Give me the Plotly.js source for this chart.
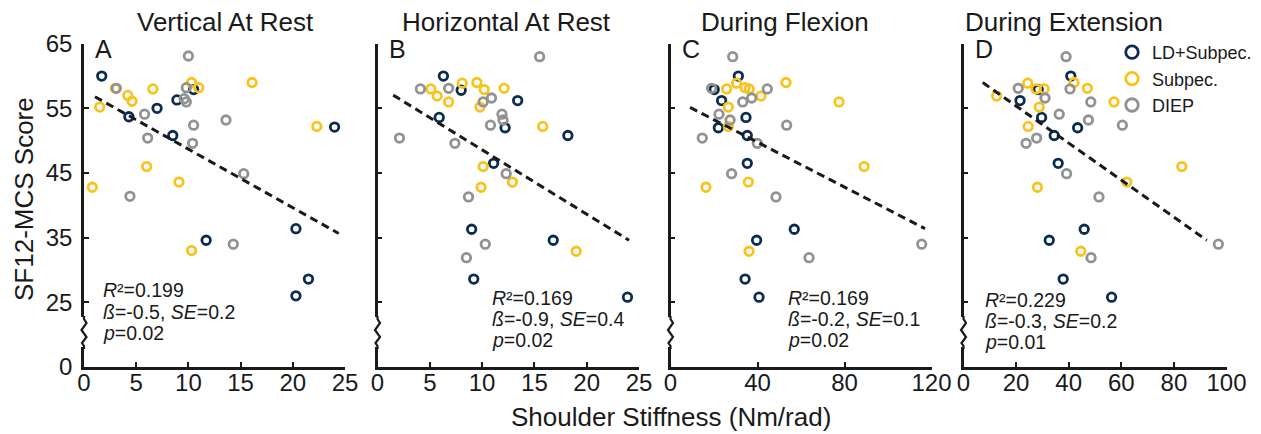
<!DOCTYPE html>
<html>
<head>
<meta charset="utf-8">
<script src="https://cdn.plot.ly/plotly-3.0.1.min.js"></script>
<style>
  html, body { margin: 0; padding: 0; background: #ffffff; }
  #chart { width: 1261px; height: 434px; }
</style>
</head>
<body>
<div id="chart"></div>
<script>
// ---------------- DATA ----------------
const groups = ['LD+Subpec.', 'Subpec.', 'DIEP'];
const panelTitles = ['Vertical At Rest', 'Horizontal At Rest', 'During Flexion', 'During Extension'];
const panelLetters = ['A', 'B', 'C', 'D'];
const xRanges = [[0, 25], [0, 25], [0, 120], [0, 100]];
const xTicks = [[0, 5, 10, 15, 20, 25], [0, 5, 10, 15, 20, 25], [0, 40, 80, 120], [0, 20, 40, 60, 80, 100]];
// y axis is broken: the "0" label sits where 15 would be
const yTickVals = [15, 25, 35, 45, 55, 65];
const yTickText = ['0', '25', '35', '45', '55', '65'];

// Panel A - Vertical At Rest
const ldA_x = [1.7, 4.3, 7.0, 8.9, 10.5, 8.5, 11.7, 20.3, 24.0, 20.3, 21.5];
const ldA_y = [60.0, 53.7, 55.0, 56.3, 57.9, 50.8, 34.6, 36.4, 52.1, 26.0, 28.6];
const subA_x = [0.8, 1.5, 3.0, 4.2, 4.6, 6.6, 6.0, 9.1, 10.3, 11.0, 16.1, 22.3, 10.3];
const subA_y = [42.8, 55.2, 58.1, 57.0, 56.1, 58.0, 46.0, 43.6, 59.0, 58.2, 59.0, 52.2, 33.0];
const diepA_x = [10.0, 3.1, 5.8, 6.1, 9.8, 9.6, 9.8, 10.5, 10.4, 13.6, 15.3, 4.4, 14.3];
const diepA_y = [63.1, 58.1, 54.1, 50.4, 58.2, 56.5, 56.0, 52.4, 49.6, 53.2, 44.9, 41.4, 34.0];
const fitA_x = [1.05, 24.4];
const fitA_y = [56.8, 35.65];

// Panel B - Horizontal At Rest
const ldB_x = [6.3, 8.0, 13.4, 5.9, 12.2, 18.2, 11.1, 9.0, 16.8, 9.2, 23.9];
const ldB_y = [60.0, 57.8, 56.2, 53.6, 52.0, 50.8, 46.5, 36.3, 34.6, 28.6, 25.8];
const subB_x = [5.1, 5.7, 6.8, 8.1, 9.5, 10.2, 12.1, 9.8, 15.8, 10.1, 9.9, 12.9, 19.0];
const subB_y = [58.0, 56.9, 56.0, 58.9, 59.0, 57.9, 58.1, 55.2, 52.2, 46.0, 42.8, 43.6, 32.9];
const diepB_x = [15.5, 4.1, 6.8, 10.1, 10.9, 11.9, 12.0, 10.8, 2.1, 7.4, 12.3, 8.7, 10.3, 8.5];
const diepB_y = [63.0, 58.0, 58.1, 56.0, 56.6, 54.1, 53.2, 52.4, 50.4, 49.6, 44.9, 41.3, 34.0, 31.9];
const fitB_x = [1.5, 24.05];
const fitB_y = [57.05, 34.6];

// Panel C - During Flexion
const ldC_x = [31.2, 20.1, 23.5, 34.7, 22.0, 35.3, 35.3, 56.9, 39.6, 34.3, 40.7];
const ldC_y = [60.0, 57.9, 56.2, 53.6, 52.0, 50.8, 46.5, 36.3, 34.6, 28.6, 25.8];
const subC_x = [25.8, 30.4, 34.3, 36.2, 41.6, 26.6, 53.1, 77.5, 26.6, 89.0, 16.3, 35.8, 36.1];
const subC_y = [58.0, 58.9, 58.2, 58.0, 56.9, 55.2, 59.0, 56.0, 52.2, 46.0, 42.8, 43.6, 32.9];
const diepC_x = [28.6, 18.9, 44.5, 37.3, 33.2, 22.3, 27.4, 53.4, 14.6, 39.9, 28.1, 48.5, 115.5, 63.7];
const diepC_y = [63.0, 58.1, 58.0, 56.6, 56.0, 54.1, 53.2, 52.4, 50.4, 49.6, 44.9, 41.3, 34.0, 31.9];
const fitC_x = [9.0, 117.0];
const fitC_y = [55.15, 36.4];

// Panel D - During Extension
const ldD_x = [40.8, 28.4, 21.5, 29.7, 43.4, 34.5, 36.0, 45.9, 32.6, 37.9, 56.3];
const ldD_y = [60.0, 57.9, 56.2, 53.6, 52.0, 50.8, 46.5, 36.3, 34.6, 28.6, 25.8];
const subD_x = [12.6, 24.4, 27.6, 30.7, 28.8, 42.0, 47.1, 57.2, 24.6, 83.0, 28.1, 62.1, 44.6];
const subD_y = [56.9, 58.9, 58.0, 58.0, 55.2, 59.0, 58.1, 56.0, 52.2, 46.0, 42.8, 43.6, 32.9];
const diepD_x = [39.0, 20.8, 40.5, 31.0, 48.4, 36.4, 47.5, 60.4, 23.8, 27.8, 39.2, 51.5, 96.9, 48.5];
const diepD_y = [63.0, 58.1, 58.0, 56.6, 56.0, 54.1, 53.2, 52.4, 49.6, 50.4, 44.9, 41.3, 34.0, 31.9];
const fitD_x = [7.3, 92.5];
const fitD_y = [59.0, 34.6];

// regression statistics
const statR2 = ['0.199', '0.169', '0.169', '0.229'];
const statBeta = ['-0.5', '-0.9', '-0.2', '-0.3'];
const statSE = ['0.2', '0.4', '0.1', '0.2'];
const statP = ['0.02', '0.02', '0.02', '0.01'];

// ---------------- STYLE / LAYOUT ----------------
const W = 1261, H = 434;
const FONT = '"Liberation Sans", Arial, Helvetica, sans-serif';
const INK = '#1a1a1a';
const colors = ['#0b2c50', '#f9c31c', '#929292'];
const px = v => v / W;
const py = v => 1 - v / H;

const xDomPx = [[84, 345], [377.5, 639], [670.5, 931.5], [963.5, 1226.5]];
const yTopPx = 43.7, yBotPx = 367;
const yDom = [py(yBotPx), py(yTopPx)];

const panels = [
  { ld: [ldA_x, ldA_y], sub: [subA_x, subA_y], diep: [diepA_x, diepA_y], fit: [fitA_x, fitA_y] },
  { ld: [ldB_x, ldB_y], sub: [subB_x, subB_y], diep: [diepB_x, diepB_y], fit: [fitB_x, fitB_y] },
  { ld: [ldC_x, ldC_y], sub: [subC_x, subC_y], diep: [diepC_x, diepC_y], fit: [fitC_x, fitC_y] },
  { ld: [ldD_x, ldD_y], sub: [subD_x, subD_y], diep: [diepD_x, diepD_y], fit: [fitD_x, fitD_y] }
];

const traces = [];
const layout = {
  width: W, height: H,
  margin: { l: 0, r: 0, t: 0, b: 0, pad: 0 },
  paper_bgcolor: '#ffffff',
  plot_bgcolor: 'rgba(0,0,0,0)',
  font: { family: FONT, color: INK, size: 24 },
  showlegend: true,
  legend: {
    x: px(1112), y: py(34), xanchor: 'left', yanchor: 'top',
    font: { family: FONT, size: 18, color: INK },
    bgcolor: 'rgba(0,0,0,0)', borderwidth: 0,
    itemclick: false, itemdoubleclick: false,
    tracegroupgap: 0
  },
  annotations: [],
  shapes: []
};

panels.forEach((p, i) => {
  const n = i === 0 ? '' : String(i + 1);
  const xa = 'x' + n, ya = 'y' + n;
  const series = [p.ld, p.sub, p.diep];
  series.forEach((s, g) => {
    traces.push({
      type: 'scatter', mode: 'markers', xaxis: xa, yaxis: ya,
      x: s[0], y: s[1], name: groups[g], showlegend: false,
      marker: { symbol: 'circle-open', size: 8.5, color: colors[g], line: { width: 2.8, color: colors[g] } },
      cliponaxis: false, hoverinfo: 'x+y+name'
    });
  });
  traces.push({
    type: 'scatter', mode: 'lines', xaxis: xa, yaxis: ya,
    x: p.fit[0], y: p.fit[1], showlegend: false,
    line: { color: INK, width: 3, dash: '8px,5px' }, hoverinfo: 'skip'
  });

  layout['xaxis' + n] = {
    domain: [px(xDomPx[i][0]), px(xDomPx[i][1])],
    anchor: ya, range: xRanges[i], tickvals: xTicks[i],
    ticks: 'inside', ticklen: 5, tickwidth: 2, tickcolor: INK,
    showline: true, linewidth: 2.6, linecolor: INK,
    showgrid: false, zeroline: false, fixedrange: true,
    ticklabelstandoff: -8,
    tickfont: { family: FONT, size: 24, color: INK }
  };
  layout['yaxis' + n] = {
    domain: yDom, anchor: xa, range: [15, 65],
    tickvals: yTickVals, ticktext: yTickText,
    ticks: 'inside', ticklen: 5, tickwidth: 2, tickcolor: INK,
    showline: true, linewidth: 2.6, linecolor: INK,
    showgrid: false, zeroline: false, fixedrange: true,
    showticklabels: i === 0, ticklabelstandoff: 4,
    tickfont: { family: FONT, size: 24, color: INK }
  };

  // axis break on y axis
  const ax = xDomPx[i][0];
  layout.shapes.push({
    type: 'rect', xref: 'paper', yref: 'paper', layer: 'above',
    x0: px(ax - 3), x1: px(ax + 4), y0: py(347), y1: py(317),
    fillcolor: '#ffffff', line: { width: 0 }
  });
  const pts = [[ax, 316], [ax, 319], [ax + 2.5, 323], [ax - 2.5, 330], [ax + 2.5, 337], [ax - 2, 343], [ax, 346], [ax, 349]];
  const d = pts.map((q, k) => (k === 0 ? 'M' : 'L') + px(q[0]).toFixed(5) + ',' + py(q[1]).toFixed(5)).join(' ');
  layout.shapes.push({
    type: 'path', xref: 'paper', yref: 'paper', layer: 'above', path: d,
    line: { color: INK, width: 2.2 }
  });
});

// legend entries
groups.forEach((g, k) => {
  traces.push({
    type: 'scatter', mode: 'markers', x: [null], y: [null], name: g,
    marker: { symbol: 'circle-open', size: 12.5, color: colors[k], line: { width: 2.8, color: colors[k] } },
    showlegend: true, hoverinfo: 'skip'
  });
});

// titles, letters, stats
const titleCx = [225, 506, 785, 1064];
const statPos = [
  { x: 102, y: [290, 311.7, 333.3] },
  { x: 490.5, y: [298.3, 319, 340] },
  { x: 787, y: [298.3, 319, 340] },
  { x: 984, y: [300, 320.7, 341.7] }
];
for (let i = 0; i < 4; i++) {
  layout.annotations.push({
    xref: 'paper', yref: 'paper', x: px(titleCx[i]), y: py(21.5),
    xanchor: 'center', yanchor: 'middle', showarrow: false,
    text: panelTitles[i], font: { family: FONT, size: 26, color: INK }
  });
  layout.annotations.push({
    xref: 'paper', yref: 'paper', x: px(xDomPx[i][0] + 9), y: py(48.5),
    xanchor: 'left', yanchor: 'middle', showarrow: false,
    text: panelLetters[i], font: { family: FONT, size: 25, color: INK }
  });
  const lines = [
    '<i>R</i>\u00b2=' + statR2[i],
    '<i>ß</i>=' + statBeta[i] + ', <i>SE</i>=' + statSE[i],
    '<i>p</i>=' + statP[i]
  ];
  lines.forEach((t, k) => {
    layout.annotations.push({
      xref: 'paper', yref: 'paper', x: px(statPos[i].x), y: py(statPos[i].y[k]),
      xanchor: 'left', yanchor: 'middle', showarrow: false, borderpad: 0,
      text: t, font: { family: FONT, size: 19.5, color: INK }
    });
  });
}
// axis titles
layout.annotations.push({
  xref: 'paper', yref: 'paper', x: px(670.5), y: py(417),
  xanchor: 'center', yanchor: 'middle', showarrow: false,
  text: 'Shoulder Stiffness (Nm/rad)', font: { family: FONT, size: 26, color: INK }
});
layout.annotations.push({
  xref: 'paper', yref: 'paper', x: px(24), y: py(199),
  xanchor: 'center', yanchor: 'middle', showarrow: false, textangle: -90,
  text: 'SF12-MCS Score', font: { family: FONT, size: 26, color: INK }
});

Plotly.newPlot('chart', traces, layout, { displayModeBar: false, staticPlot: false, responsive: false });
</script>
</body>
</html>
